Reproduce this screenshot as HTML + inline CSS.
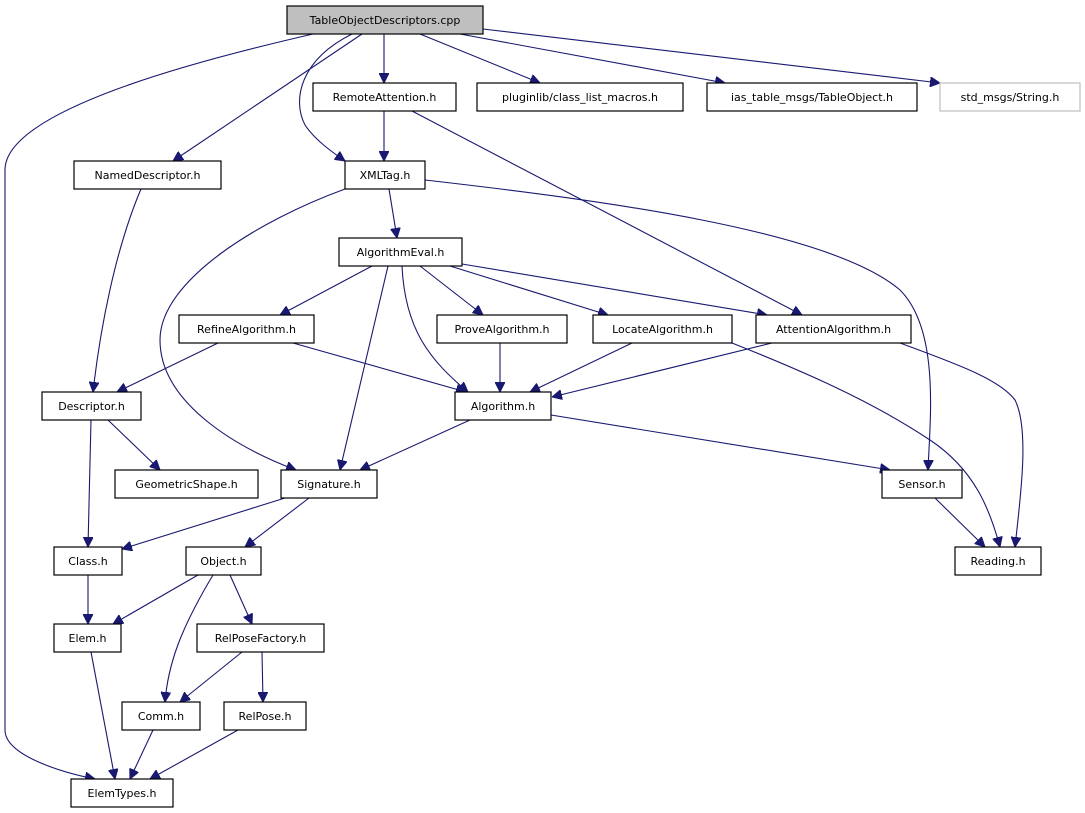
<!DOCTYPE html>
<html><head><meta charset="utf-8"><style>
html,body{margin:0;padding:0;background:#fff;}
svg{display:block;}
text{font-family:"DejaVu Sans","Liberation Sans",sans-serif;font-size:11px;fill:#000;}
.b{fill:#fff;stroke:#000;stroke-width:1.2;}
.e{fill:none;stroke:#191970;stroke-width:1.1;}
</style></head><body>
<svg width="1085" height="813" viewBox="0 0 1085 813" xmlns="http://www.w3.org/2000/svg">
<defs>
<marker id="a" viewBox="0 0 10 10" refX="10" refY="5" markerWidth="10" markerHeight="10" markerUnits="userSpaceOnUse" orient="auto">
<path d="M0,0 L10,5 L0,10 z" fill="#191970" stroke="#191970"/>
</marker>
</defs>
<g class="e" marker-end="url(#a)">
<path d="M313,34 C200,60 5,110 5,170 L5,730 C5,755 60,772 95,779"/>
<path d="M362,34 L173,161"/>
<path d="M352,34 C300,60 292,100 305,125 C315,140 332,152 345,161"/>
<path d="M384,34 L384,83"/>
<path d="M420,34 L540,83"/>
<path d="M460,34 L725,83"/>
<path d="M483,29 L940,83"/>
<path d="M384,111 L384,161"/>
<path d="M412,111 L802,315"/>
<path d="M141,189 C115,250 100,330 93,392"/>
<path d="M389,189 L397,238"/>
<path d="M345,189 C260,220 160,280 160,340 C160,400 230,445 296,470"/>
<path d="M425,180 C600,200 830,230 900,290 C940,330 930,420 928,470"/>
<path d="M372,266 L280,315"/>
<path d="M388,266 L340,470"/>
<path d="M402,266 C405,330 430,360 468,392"/>
<path d="M420,266 L483,315"/>
<path d="M450,266 L608,315"/>
<path d="M462,264 L767,315"/>
<path d="M218,343 L117,392"/>
<path d="M293,343 L466,392"/>
<path d="M500,343 L500,392"/>
<path d="M632,343 L530,392"/>
<path d="M732,343 C800,370 870,400 930,440 C975,470 990,510 1000,547"/>
<path d="M772,343 L552,397"/>
<path d="M900,343 C960,365 1000,380 1015,400 C1030,430 1020,500 1015,547"/>
<path d="M470,420 L360,470"/>
<path d="M551,415 L890,470"/>
<path d="M91,420 L88,547"/>
<path d="M108,420 L160,470"/>
<path d="M285,498 L122,549"/>
<path d="M309,498 L245,547"/>
<path d="M935,498 L985,547"/>
<path d="M88,575 L88,624"/>
<path d="M198,575 L113,624"/>
<path d="M213,575 C180,630 168,665 165,702"/>
<path d="M230,575 L252,624"/>
<path d="M242,652 L180,702"/>
<path d="M262,652 L263,702"/>
<path d="M91,652 L115,779"/>
<path d="M153,730 L130,779"/>
<path d="M238,730 L150,779"/>
</g>
<g>
<rect x="287" y="6" width="196" height="28" fill="#bfbfbf" stroke="#000" stroke-width="1.2"/>
<text x="385" y="24" text-anchor="middle">TableObjectDescriptors.cpp</text>
<rect class="b" x="313" y="83" width="143" height="28"/><text x="384.5" y="101" text-anchor="middle">RemoteAttention.h</text>
<rect class="b" x="477" y="83" width="206" height="28"/><text x="580" y="101" text-anchor="middle">pluginlib/class_list_macros.h</text>
<rect class="b" x="707" y="83" width="210" height="28"/><text x="812" y="101" text-anchor="middle">ias_table_msgs/TableObject.h</text>
<rect x="940" y="83" width="140" height="28" fill="#fff" stroke="#bfbfbf" stroke-width="1.2"/><text x="1010" y="101" text-anchor="middle">std_msgs/String.h</text>
<rect class="b" x="74" y="161" width="147" height="28"/><text x="147.5" y="179" text-anchor="middle">NamedDescriptor.h</text>
<rect class="b" x="345" y="161" width="80" height="28"/><text x="385" y="179" text-anchor="middle">XMLTag.h</text>
<rect class="b" x="339" y="238" width="123" height="28"/><text x="400.5" y="256" text-anchor="middle">AlgorithmEval.h</text>
<rect class="b" x="179" y="315" width="135" height="28"/><text x="246.5" y="333" text-anchor="middle">RefineAlgorithm.h</text>
<rect class="b" x="437" y="315" width="130" height="28"/><text x="502" y="333" text-anchor="middle">ProveAlgorithm.h</text>
<rect class="b" x="593" y="315" width="139" height="28"/><text x="662.5" y="333" text-anchor="middle">LocateAlgorithm.h</text>
<rect class="b" x="756" y="315" width="155" height="28"/><text x="833.5" y="333" text-anchor="middle">AttentionAlgorithm.h</text>
<rect class="b" x="42" y="392" width="99" height="28"/><text x="91.5" y="410" text-anchor="middle">Descriptor.h</text>
<rect class="b" x="455" y="392" width="96" height="28"/><text x="503" y="410" text-anchor="middle">Algorithm.h</text>
<rect class="b" x="115" y="470" width="143" height="28"/><text x="186.5" y="488" text-anchor="middle">GeometricShape.h</text>
<rect class="b" x="281" y="470" width="96" height="28"/><text x="329" y="488" text-anchor="middle">Signature.h</text>
<rect class="b" x="882" y="470" width="80" height="28"/><text x="922" y="488" text-anchor="middle">Sensor.h</text>
<rect class="b" x="955" y="547" width="86" height="28"/><text x="998" y="565" text-anchor="middle">Reading.h</text>
<rect class="b" x="54" y="547" width="68" height="28"/><text x="88" y="565" text-anchor="middle">Class.h</text>
<rect class="b" x="186" y="547" width="75" height="28"/><text x="223.5" y="565" text-anchor="middle">Object.h</text>
<rect class="b" x="54" y="624" width="67" height="28"/><text x="87.5" y="642" text-anchor="middle">Elem.h</text>
<rect class="b" x="197" y="624" width="127" height="28"/><text x="260.5" y="642" text-anchor="middle">RelPoseFactory.h</text>
<rect class="b" x="122" y="702" width="78" height="28"/><text x="161" y="720" text-anchor="middle">Comm.h</text>
<rect class="b" x="224" y="702" width="82" height="28"/><text x="265" y="720" text-anchor="middle">RelPose.h</text>
<rect class="b" x="71" y="779" width="102" height="28"/><text x="122" y="797" text-anchor="middle">ElemTypes.h</text>
</g>
</svg>
</body></html>
